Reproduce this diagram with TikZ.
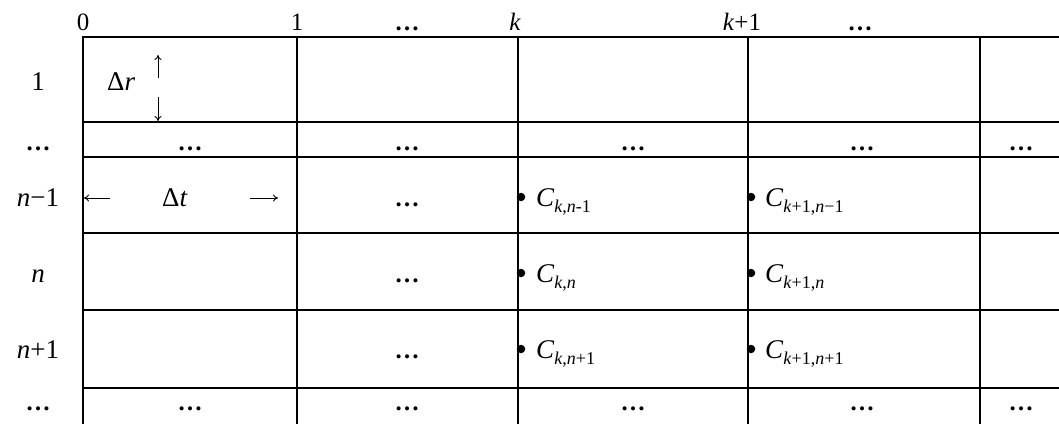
\documentclass[tikz,border=0pt]{standalone}
\usepackage{fontspec}
\setmainfont{Liberation Serif}
\usetikzlibrary{arrows.meta}
\newcommand\lowsub[1]{\raisebox{-6pt}{\fontsize{18}{18}\selectfont #1}}
\newcommand\dts{\textbf{…}}
\begin{document}
\begin{tikzpicture}[x=1pt,y=-1pt,
  gridline/.style={line width=2.3pt, line cap=rect},
  lbl/.style={inner sep=0pt, anchor=base, font=\fontsize{25}{25}\selectfont},
  rowlbl/.style={inner sep=0pt, anchor=base, font=\fontsize{27}{27}\selectfont},
  lblw/.style={inner sep=0pt, anchor=base west, font=\fontsize{27}{27}\selectfont},
  dotmark/.style={fill=black, circle, inner sep=0pt, minimum size=8.5pt},
  thinarrow/.style={line width=0.9pt, -{To[length=5pt,width=7pt]}}]
\useasboundingbox (0,0) rectangle (1059,423);
% grid
\foreach \yy in {37,122,157,233,310,388} \draw[gridline] (83,\yy) -- (1059,\yy);
\foreach \xx in {83,297,518,748,980} \draw[gridline] (\xx,37) -- (\xx,423);
% top labels
\node[lbl] (t0) at (83,30) {0};
\node[lbl] (t1) at (297,30) {1};
\node[lbl] (t2) at (407,30) {\dts};
\node[lbl] (tk) at (515,30) {\textit{k}};
\node[lbl] (tk1) at (742,30) {\textit{k}+1};
\node[lbl] (t5) at (860,30) {\dts};
% row labels
\node[rowlbl] (r1) at (38,90) {1};
\node[lbl] (r2) at (38,150) {\dts};
\node[rowlbl] (r3) at (38,206) {\textit{n}−1};
\node[rowlbl] (r4) at (38,282) {\textit{n}};
\node[rowlbl] (r5) at (38,358) {\textit{n}+1};
\node[lbl] (r6) at (38,410) {\dts};
% row 1
\node[lblw, font=\fontsize{27}{27}\selectfont] (dr) at (107,90) {Δ\textit{r}};
\coordinate (ua) at (158,78); \coordinate (ub) at (158,55);
\coordinate (da) at (158,97); \coordinate (db) at (158,121);
\draw[thinarrow] (ua) -- (ub);
\draw[thinarrow] (da) -- (db);
% dots row
\foreach \xx/\nm in {190/a,407/b,633/c,862/d,1021/e} \node[lbl] (d2\nm) at (\xx,150) {\dts};
% row n-1
\coordinate (la) at (110,198); \coordinate (lb) at (84,198);
\coordinate (ra) at (250,198); \coordinate (rb) at (278,198);
\draw[thinarrow] (la) -- (lb);
\draw[thinarrow] (ra) -- (rb);
\node[lblw, font=\fontsize{27}{27}\selectfont] (dt) at (162,206) {Δ\textit{t}};
\node[lbl] (d3b) at (407,206) {\dts};
\node[dotmark] (p31) at (521,197) {};
\node[lblw] (c31) at (536,206) {\textit{C}\lowsub{\textit{k},\textit{n}-1}};
\node[dotmark] (p32) at (751,197) {};
\node[lblw] (c32) at (765,206) {\textit{C}\lowsub{\textit{k}+1,\textit{n}−1}};
% row n
\node[lbl] (d4b) at (407,282) {\dts};
\node[dotmark] (p41) at (521,273) {};
\node[lblw] (c41) at (536,282) {\textit{C}\lowsub{\textit{k},\textit{n}}};
\node[dotmark] (p42) at (751,273) {};
\node[lblw] (c42) at (765,282) {\textit{C}\lowsub{\textit{k}+1,\textit{n}}};
% row n+1
\node[lbl] (d5b) at (407,358) {\dts};
\node[dotmark] (p51) at (521,349) {};
\node[lblw] (c51) at (536,358) {\textit{C}\lowsub{\textit{k},\textit{n}+1}};
\node[dotmark] (p52) at (751,349) {};
\node[lblw] (c52) at (765,358) {\textit{C}\lowsub{\textit{k}+1,\textit{n}+1}};
% last row
\foreach \xx/\nm in {190/a,407/b,633/c,862/d,1021/e} \node[lbl] (d6\nm) at (\xx,410) {\dts};
\end{tikzpicture}
\end{document}
